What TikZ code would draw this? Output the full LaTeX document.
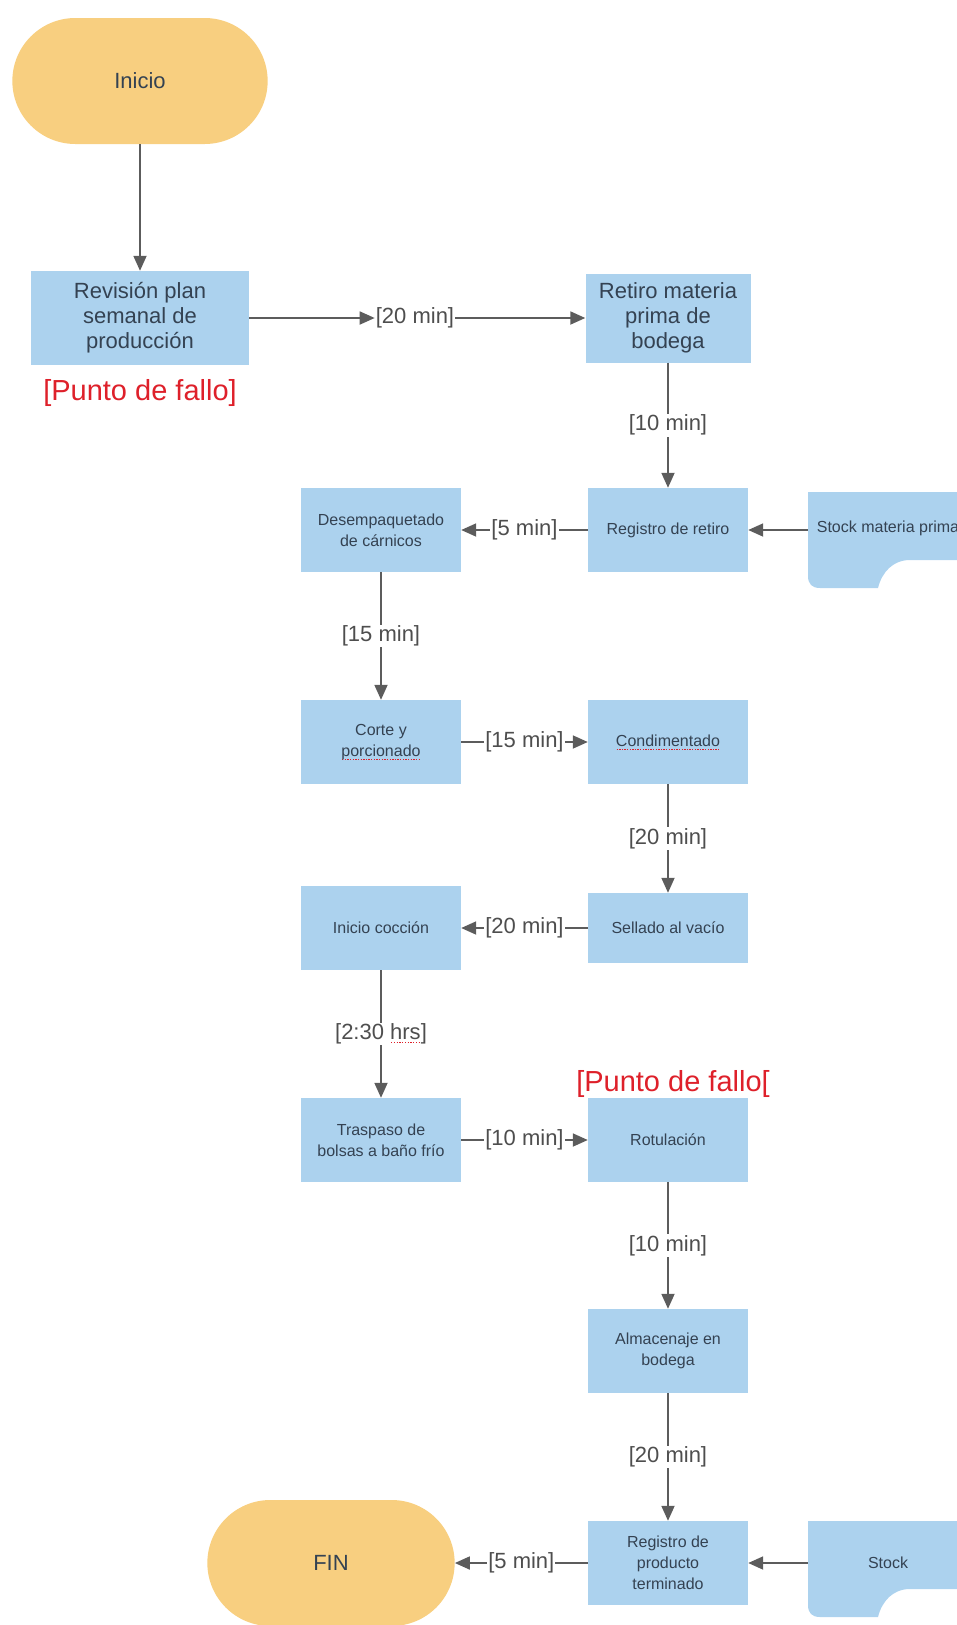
\documentclass[tikz,border=0pt]{standalone}
\usepackage{fontspec}
\setmainfont{Liberation Sans}
\usepackage{tikz}
\usetikzlibrary{shapes,arrows,arrows.meta,positioning,calc}
\definecolor{boxblue}{RGB}{172,210,238}
\definecolor{termyellow}{RGB}{248,207,128}
\definecolor{textslate}{RGB}{52,66,82}
\definecolor{linegray}{RGB}{92,92,92}
\definecolor{faultred}{RGB}{222,32,42}
\newsavebox{\spellbox}
\newcommand{\spellmark}[1]{\sbox{\spellbox}{#1}\leavevmode
    \rlap{\raisebox{-3.5pt}{\hbox to \wd\spellbox{\xleaders\hbox to 2.6pt{\hss\textcolor{faultred}{\rule{1.3pt}{1pt}}\hss}\hfill}}}\usebox{\spellbox}}

\begin{document}
\begin{tikzpicture}[x=1pt,y=-1pt,
    proc/.style={rectangle, fill=boxblue, text=textslate, align=center,
        minimum width=160pt, minimum height=84pt, inner sep=2pt,
        font=\fontsize{16}{21}\selectfont},
    bigproc/.style={proc, font=\fontsize{22}{25}\selectfont},
    term/.style={rounded rectangle, fill=termyellow, text=textslate,
        minimum width=262pt, minimum height=126pt, font=\fontsize{22}{26}\selectfont},
    docnode/.style={minimum width=160pt, minimum height=60pt, inner sep=0pt,
        text=textslate, font=\fontsize{16}{21}\selectfont},
    flow/.style={draw=linegray, line width=1.8pt, -{Triangle[length=15pt,width=13pt]}},
    tag/.style={fill=white, text=linegray!85!black, inner sep=1pt,
        font=\fontsize{22}{24}\selectfont},
    fault/.style={text=faultred, font=\fontsize{29}{31}\selectfont}]
    \useasboundingbox (0,0) rectangle (957,1625);

    % document shapes (stock)
    \fill[boxblue] (808,492) -- (968,492) -- (968,560) -- (910,560)
        .. controls (893,560) and (882,572) .. (878,588) -- (820,588)
        .. controls (812,588) and (808,584) .. (808,576) -- cycle;
    \fill[boxblue] (808,1521) -- (968,1521) -- (968,1589) -- (910,1589)
        .. controls (893,1589) and (882,1601) .. (878,1617) -- (820,1617)
        .. controls (812,1617) and (808,1613) .. (808,1605) -- cycle;

    % upper part
    \node[term] (inicio) at (140,81) {Inicio};
    \node[bigproc, minimum width=218pt, minimum height=94pt] (revision) at (140,318)
        {Revisión plan\\semanal de\\producción};
    \node[fault] (fallo1) at (140,393) {[Punto de fallo]};
    \node[bigproc, minimum width=165pt, minimum height=89pt] (retiro) at (668,318)
        {Retiro materia\\prima de\\bodega};
    \node[tag] (t20a) at (415,318) {[20 min]};

    \node[proc] (desemp) at (381,530) {Desempaquetado\\de cárnicos};
    \node[proc] (regret) at (668,530) {Registro de retiro};
    \node[docnode] (stockmp) at (888,528) {Stock materia prima};

    \node[proc] (corte) at (381,742) {Corte y\\\spellmark{porcionado}};
    \node[proc] (condim) at (668,742) {\spellmark{Condimentado}};
    \node[proc, minimum height=70pt] (sellado) at (668,928) {Sellado al vacío};
    \node[proc] (coccion) at (381,928) {Inicio cocción};

    % lower part
    \node[proc] (traspaso) at (381,1140) {Traspaso de\\bolsas a baño frío};
    \node[proc] (rotul) at (668,1140) {Rotulación};
    \node[fault] (fallo2) at (673,1084) {[Punto de fallo[};
    \node[proc] (almac) at (668,1351) {Almacenaje en\\bodega};
    \node[proc] (regprod) at (668,1563) {Registro de\\producto\\terminado};
    \node[term, minimum width=254pt] (fin) at (331,1563) {FIN};
    \node[docnode] (stock) at (888,1563) {Stock};

    % connectors
    \draw[flow] (inicio) -- (revision);
    \draw[flow] (revision) -- (t20a);
    \draw[flow] (t20a) -- (retiro);
    \draw[flow] (retiro) -- node[tag] {[10 min]} (regret);
    \draw[flow] (stockmp.west |- regret) -- (regret);
    \draw[flow] (regret) -- node[tag] {[5 min]} (desemp);
    \draw[flow] (desemp) -- node[tag] {[15 min]} (corte);
    \draw[flow] (corte) -- node[tag] {[15 min]} (condim);
    \draw[flow] (condim) -- node[tag] {[20 min]} (sellado);
    \draw[flow] (sellado) -- node[tag] {[20 min]} (coccion);
    \draw[flow] (coccion) -- node[tag] {[2:30 \spellmark{hrs}]} (traspaso);
    \draw[flow] (traspaso) -- node[tag] {[10 min]} (rotul);
    \draw[flow] (rotul) -- node[tag] {[10 min]} (almac);
    \draw[flow] (almac) -- node[tag] {[20 min]} (regprod);
    \draw[flow] (stock) -- (regprod);
    \draw[flow] (regprod) -- node[tag] {[5 min]} (fin);
\end{tikzpicture}
\end{document}
